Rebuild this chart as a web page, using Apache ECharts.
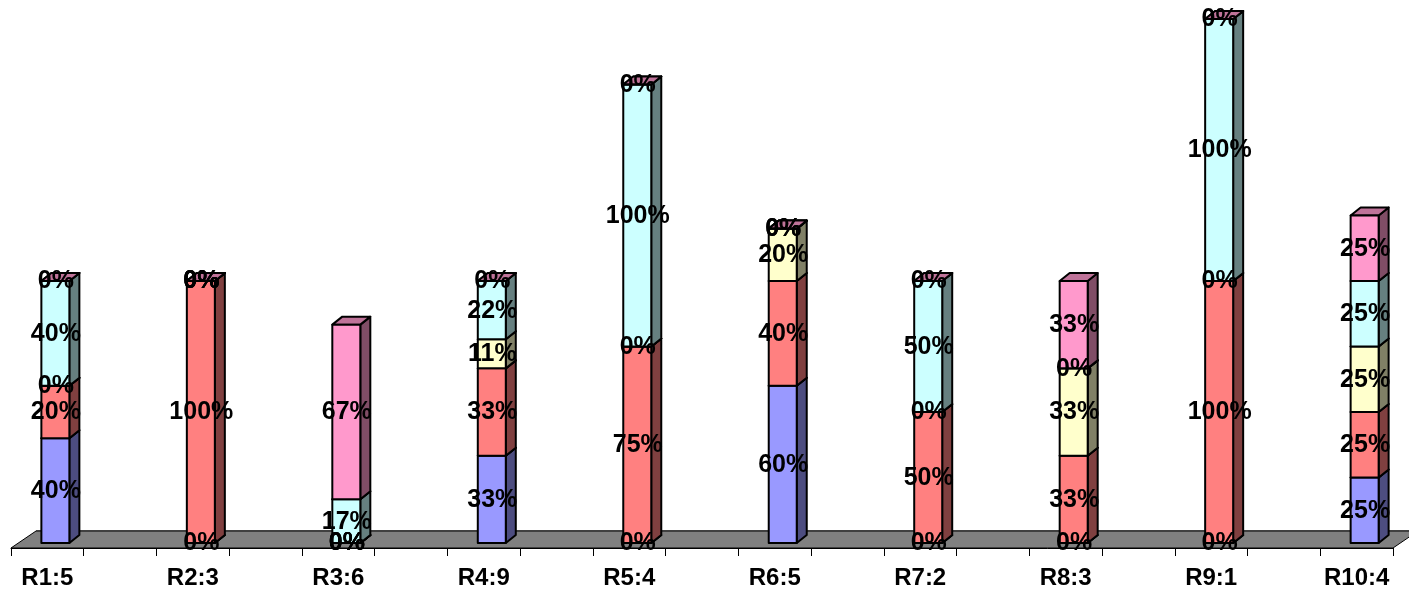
<!DOCTYPE html>
<html><head><meta charset="utf-8">
<style>html,body{margin:0;padding:0;background:#fff}#c{width:1409px;height:592px}</style>
<script src="https://cdn.jsdelivr.net/npm/echarts@6/dist/echarts.min.js"></script>
</head><body><div id="c"></div>
<script>
const categories = ['R1:5','','R2:3','','R3:6','','R4:9','','R5:4','','R6:5','','R7:2','','R8:3','','R9:1','','R10:4'];
const blueValues   = [40,  0,    0, 33.33,  0, 60,  0,  0,     0, 25];
const redValues    = [20,100,    0, 33.33, 75, 40, 50, 33.33,100, 25];
const yellowValues = [ 0,  0,    0, 11.11,  0, 20,  0, 33.33,  0, 25];
const cyanValues   = [40,  0,16.67, 22.22,100,  0, 50,  0,   100, 25];
const pinkValues   = [ 0,  0,66.67,  0,     0,  0,  0, 33.33,  0, 25];
const seriesValues = [blueValues, redValues, yellowValues, cyanValues, pinkValues];
const faceColors = ['#9999FF','#FF8080','#FFFFCC','#CCFFFF','#FF99CC'];
const sideColors = ['#4D4D80','#804040','#808066','#668080','#804D66'];
const topColors  = ['#7373BF','#BF6060','#BFBF99','#99BFBF','#BF7399'];

const BAR_W = 28, DX = 10, DY = 8, OFF_X = 8, OFF_Y = 5;
const FLOOR_DX = 25, FLOOR_DY = 17;
const FONT = '"Liberation Sans", Arial, sans-serif';

const bases = seriesValues.map((arr, s) => arr.map((_, i) => {
  let b = 0; for (let k = 0; k < s; k++) b += seriesValues[k][i]; return b;
}));

function barSeries(s) {
  return {
    type: 'custom', z: 2 + s, silent: true, clip: false,
    encode: { x: 0, y: 1 },
    data: seriesValues[s].map((v, i) => [i * 2, bases[s][i], v]),
    renderItem(params, api) {
      const c = api.value(0), b = api.value(1), v = api.value(2);
      const p0 = api.coord([c, b]), p1 = api.coord([c, b + v]);
      const x0 = p0[0] + OFF_X - BAR_W / 2, x1 = x0 + BAR_W;
      const yb = p0[1] - OFF_Y, yt = p1[1] - OFF_Y;
      const line = { stroke: '#000', lineWidth: 2, lineJoin: 'round' };
      return { type: 'group', children: [
        { type: 'polygon', shape: { points: [[x1,yb],[x1+DX,yb-DY],[x1+DX,yt-DY],[x1,yt]] },
          style: Object.assign({ fill: sideColors[s] }, line) },
        { type: 'polygon', shape: { points: [[x0,yt],[x1,yt],[x1+DX,yt-DY],[x0+DX,yt-DY]] },
          style: Object.assign({ fill: topColors[s] }, line) },
        { type: 'rect', shape: { x: x0, y: yt, width: BAR_W, height: yb - yt },
          style: Object.assign({ fill: faceColors[s] }, line) }
      ]};
    }
  };
}

function labelSeries(s) {
  return {
    type: 'custom', z: 20, silent: true, clip: false,
    encode: { x: 0, y: 1 },
    data: seriesValues[s].map((v, i) => [i * 2, bases[s][i], v]),
    renderItem(params, api) {
      const c = api.value(0), b = api.value(1), v = api.value(2);
      const p = api.coord([c, b + v / 2]);
      return { type: 'text', style: {
        text: Math.round(v) + '%', x: p[0] + OFF_X + 0.5, y: p[1] - OFF_Y + 0.5,
        align: 'center', verticalAlign: 'middle',
        font: 'bold 25px ' + FONT, fill: '#000'
      }};
    }
  };
}

const floorSeries = {
  type: 'custom', z: 1, silent: true, clip: false,
  encode: { x: 0, y: 1 },
  data: [[0, 0]],
  renderItem(params, api) {
    const g = params.coordSys;
    const l = g.x, r = g.x + g.width, y = g.y + g.height;
    return { type: 'group', children: [
      { type: 'polygon', shape: { points: [[l,y],[r,y],[r+FLOOR_DX,y-FLOOR_DY],[l+FLOOR_DX,y-FLOOR_DY]] },
        style: { fill: '#808080', stroke: '#000', lineWidth: 1 } },
      { type: 'line', shape: { x1: l+FLOOR_DX, y1: y-FLOOR_DY, x2: r+FLOOR_DX, y2: y-FLOOR_DY },
        style: { stroke: '#404040', lineWidth: 2 } }
    ]};
  }
};

const chart = echarts.init(document.getElementById('c'), null, { renderer: 'canvas' });
chart.setOption({
  animation: false,
  backgroundColor: '#fff',
  grid: { left: 11, top: 0, width: 1382, height: 548, containLabel: false },
  xAxis: {
    type: 'category', data: categories, boundaryGap: true,
    axisLine: { show: true, lineStyle: { color: '#000', width: 1 } },
    axisTick: { show: true, length: 8, alignWithLabel: false, interval: 0, lineStyle: { color: '#000', width: 1 } },
    axisLabel: { interval: 0, margin: 18, color: '#000', fontFamily: FONT, fontWeight: 'bold', fontSize: 24, hideOverlap: false }
  },
  yAxis: { type: 'value', min: 0, max: 209.16, show: false, splitLine: { show: false } },
  series: [floorSeries].concat(seriesValues.map((_, s) => barSeries(s)), seriesValues.map((_, s) => labelSeries(s)))
});
</script></body></html>
